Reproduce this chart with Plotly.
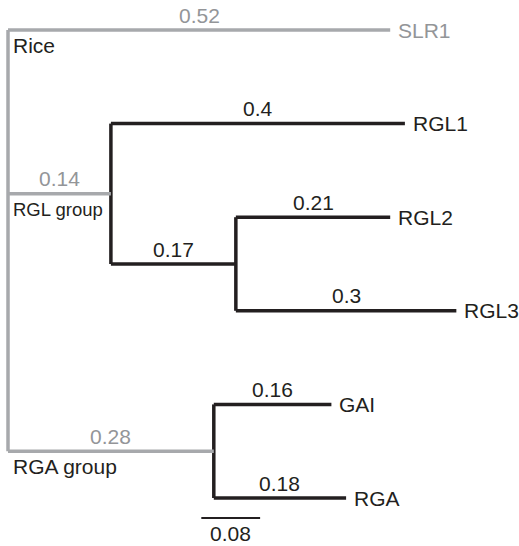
import plotly.graph_objects as go

# ---- data ----
leaf_names = ["SLR1", "RGL1", "RGL2", "RGL3", "GAI", "RGA"]
# internal nodes: name -> children (order top to bottom)
node_names = ["root", "RGL group", "RGL inner", "RGA group"]
node_children = [["SLR1", "RGL group", "RGA group"],
                 ["RGL1", "RGL inner"],
                 ["RGL2", "RGL3"],
                 ["GAI", "RGA"]]
# branch lengths (edge to parent)
branch_names = ["SLR1", "RGL group", "RGL1", "RGL inner", "RGL2", "RGL3", "RGA group", "GAI", "RGA"]
branch_lengths = [0.52, 0.14, 0.40, 0.17, 0.21, 0.30, 0.28, 0.16, 0.18]
gray_branches = ["SLR1", "RGL group", "RGA group"]
group_labels = ["Rice", "RGL group", "RGA group"]
group_label_nodes = ["SLR1", "RGL group", "RGA group"]
scale_length = 0.08

BLACK = "#231f20"
GRAY = "#a7a9ac"
GRAY_TXT = "#939598"
FONT = "Liberation Sans, Arial, Helvetica, sans-serif"
FS = 21

blen = dict(zip(branch_names, branch_lengths))
children = dict(zip(node_names, node_children))
parent = {c: p for p, cs in children.items() for c in cs}

# compute positions
X = {"root": 0.0}
def setx(n):
    for c in children.get(n, []):
        X[c] = X[n] + blen[c]
        setx(c)
setx("root")
Y = {n: i for i, n in enumerate(leaf_names)}
def sety(n):
    if n in Y:
        return Y[n]
    ys = [sety(c) for c in children[n]]
    Y[n] = (ys[0] + ys[-1]) / 2
    return Y[n]
sety("root")

fig = go.Figure()

# vertical connectors
for n in node_names:
    cs = children[n]
    col = GRAY if n == "root" else BLACK
    fig.add_trace(go.Scatter(x=[X[n], X[n]], y=[Y[cs[0]], Y[cs[-1]]], mode="lines",
                             line=dict(color=col, width=3.5), hoverinfo="skip"))
# horizontal branches
for b in branch_names:
    p = parent[b]
    col = GRAY if b in gray_branches else BLACK
    fig.add_trace(go.Scatter(x=[X[p], X[b]], y=[Y[b], Y[b]], mode="lines",
                             line=dict(color=col, width=3.5), hoverinfo="skip"))
    fig.add_annotation(x=(X[p] + X[b]) / 2, y=Y[b], text=f"{blen[b]:g}", showarrow=False,
                       yanchor="middle", xanchor="center", yshift=15,
                       font=dict(size=FS, color=GRAY_TXT if b in gray_branches else BLACK, family=FONT))

# leaf labels
for lf in leaf_names:
    fig.add_annotation(x=X[lf], y=Y[lf], text=lf, showarrow=False, xanchor="left",
                       yanchor="middle", xshift=6,
                       font=dict(size=FS, color=GRAY_TXT if lf in gray_branches else BLACK, family=FONT))

# group labels
for g, n in zip(group_labels, group_label_nodes):
    fig.add_annotation(x=0, y=Y[n], text=g, showarrow=False, xanchor="left",
                       yanchor="middle", xshift=3, yshift=-15 if g != "RGL group" else -16,
                       font=dict(size=FS if g != "RGL group" else 18.5, color=BLACK, family=FONT))

# scale bar
sx0 = 0.263
sy = 5.214
fig.add_trace(go.Scatter(x=[sx0, sx0 + scale_length], y=[sy, sy], mode="lines",
                         line=dict(color=BLACK, width=2), hoverinfo="skip"))
fig.add_annotation(x=sx0 + scale_length / 2, y=sy, text=f"{scale_length:g}", showarrow=False,
                   xanchor="center", yanchor="middle", yshift=-15,
                   font=dict(size=FS, color=BLACK, family=FONT))

PX = 735.0
PY = 93.6
fig.update_layout(
    width=519, height=546, margin=dict(l=0, r=0, t=0, b=0),
    paper_bgcolor="white", plot_bgcolor="white", showlegend=False,
    xaxis=dict(range=[-8 / PX, 511 / PX], visible=False, fixedrange=True),
    yaxis=dict(range=[(546 - 30) / PY, -30 / PY], visible=False, fixedrange=True),
)
fig.write_html("out.html", config={"displayModeBar": False},
               post_script="document.body.style.margin='0px';document.body.style.overflow='hidden';")
